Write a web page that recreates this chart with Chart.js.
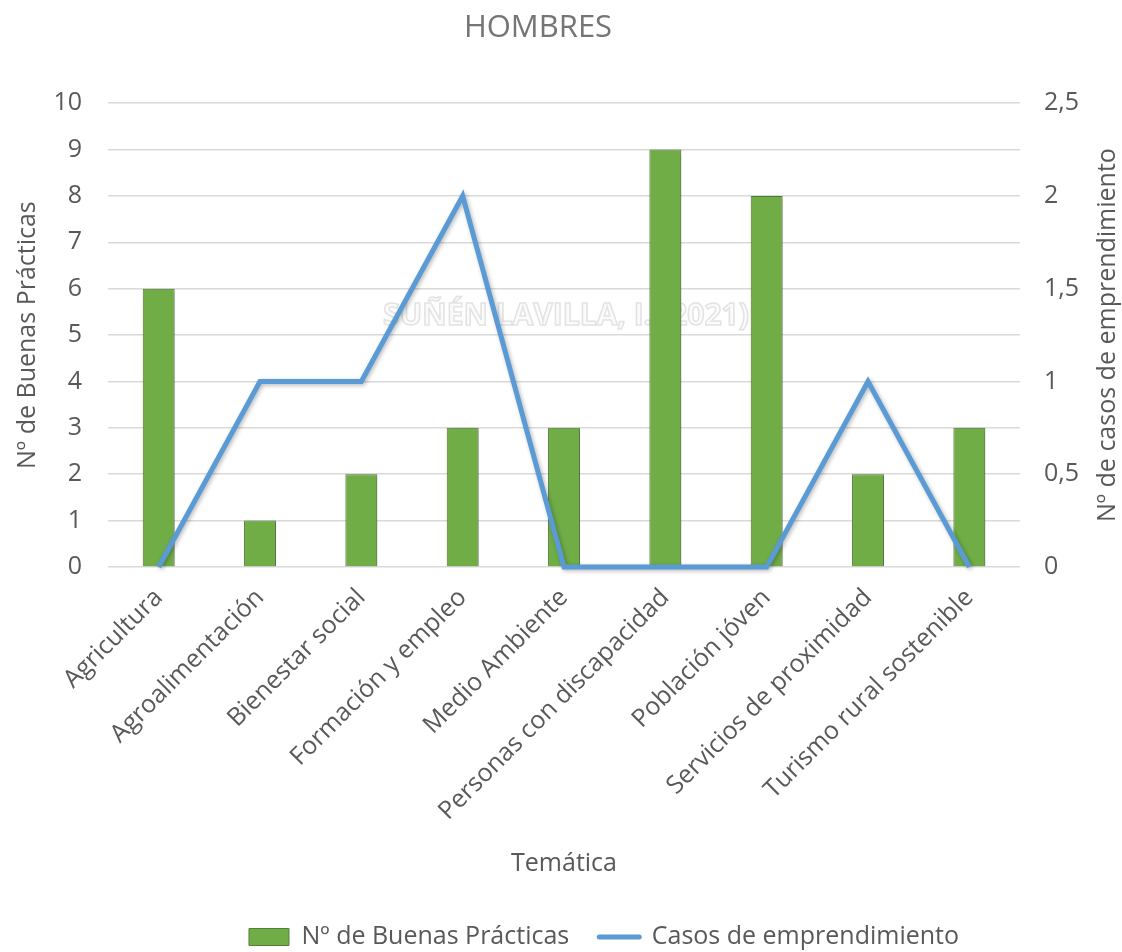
<!DOCTYPE html>
<html><head><meta charset="utf-8">
<script src="https://cdn.jsdelivr.net/npm/chart.js@4.4.0/dist/chart.umd.min.js"></script>
<style>
html,body{margin:0;padding:0;background:#fff;overflow:hidden;width:1122px;height:952px}
#wrap{position:relative;width:1122px;height:952px}
canvas{display:block}
</style></head>
<body><div id="wrap"><canvas id="c" width="1122" height="952"></canvas></div>
<script>
const chartTitle = 'HOMBRES';
const categories = ['Agricultura','Agroalimentación','Bienestar social','Formación y empleo','Medio Ambiente','Personas con discapacidad','Población jóven','Servicios de proximidad','Turismo rural sostenible'];
const buenasPracticas = [6,1,2,3,3,9,8,2,3];
const casosEmprendimiento = [0,1,1,2,0,0,0,1,0];
const seriesNames = ['Nº de Buenas Prácticas','Casos de emprendimiento'];
const leftAxisTitle = 'Nº de Buenas Prácticas';
const rightAxisTitle = 'Nº de casos de emprendimiento';
const xAxisTitle = 'Temática';
const watermark = 'SUÑÉN LAVILLA, I. (2021)';

const FONT = "'Open Sans', sans-serif";
const TXT = '#595959';
const GRID = '#d9d9d9';
const GREEN = '#70AD47';
const GREEN_B = '#548235';
const BLUE = '#5B9BD5';

const extras = {
  id: 'extras',
  afterLayout(chart) {
    if (chart.legend) { chart.legend.left += 86; }
    if (chart.titleBlock) { chart.titleBlock.right -= 46; }
  },
  beforeDatasetsDraw(chart) {
    const ctx = chart.ctx;
    const a = chart.chartArea;
    ctx.save();
    ctx.font = "bold 30px " + FONT;
    ctx.textAlign = 'center';
    ctx.textBaseline = 'middle';
    ctx.lineWidth = 1.5;
    ctx.strokeStyle = '#e3e3e3';
    ctx.fillStyle = '#fbfbfb';
    const cx = (a.left + a.right) / 2 + 2;
    const cy = chart.scales.y.getPixelForValue(5.4);
    ctx.fillText(watermark, cx, cy);
    ctx.strokeText(watermark, cx, cy);
    ctx.restore();
  },
  beforeDatasetDraw(chart) {
    const ctx = chart.ctx;
    ctx.save();
    ctx.shadowColor = 'rgba(0,0,0,0.28)';
    ctx.shadowBlur = 4;
    ctx.shadowOffsetX = 1.5;
    ctx.shadowOffsetY = 1.5;
  },
  afterDatasetDraw(chart) {
    chart.ctx.restore();
  },
  afterDraw(chart) {
    const ctx = chart.ctx;
    const a = chart.chartArea;
    ctx.save();
    ctx.font = "25px " + FONT;
    ctx.fillStyle = TXT;
    ctx.textAlign = 'center';
    ctx.textBaseline = 'middle';
    ctx.translate(1108, (a.top + a.bottom) / 2);
    ctx.rotate(-Math.PI / 2);
    ctx.fillText(rightAxisTitle, 0, 0);
    ctx.restore();
  }
};

new Chart(document.getElementById('c'), {
  type: 'bar',
  data: {
    labels: categories,
    datasets: [
      {
        type: 'line',
        label: seriesNames[1],
        data: casosEmprendimiento,
        yAxisID: 'y1',
        borderColor: BLUE,
        backgroundColor: BLUE,
        borderWidth: 5,
        pointRadius: 0,
        tension: 0,
        clip: false,
        order: 0
      },
      {
        type: 'bar',
        label: seriesNames[0],
        data: buenasPracticas,
        yAxisID: 'y',
        backgroundColor: GREEN,
        borderColor: GREEN_B,
        borderWidth: 1,
        barPercentage: 0.63,
        categoryPercentage: 0.5,
        order: 1
      }
    ]
  },
  plugins: [extras],
  options: {
    responsive: false,
    devicePixelRatio: 1,
    animation: false,
    layout: { padding: { left: 0, right: 0, top: 0, bottom: -7.5 } },
    plugins: {
      title: {
        display: true,
        text: chartTitle,
        color: '#757575',
        font: { family: FONT, size: 31, weight: 'normal' },
        padding: { top: 10, bottom: 56 }
      },
      legend: {
        position: 'bottom',
        labels: {
          color: TXT,
          font: { family: FONT, size: 25 },
          usePointStyle: true,
          pointStyleWidth: 40,
          boxHeight: 17,
          padding: 30,
          generateLabels(chart) {
            return [
              { text: seriesNames[0], fillStyle: GREEN, strokeStyle: GREEN_B, lineWidth: 1, pointStyle: 'rect', datasetIndex: 1, fontColor: TXT },
              { text: seriesNames[1], fillStyle: BLUE, strokeStyle: BLUE, lineWidth: 5, pointStyle: 'line', datasetIndex: 0, fontColor: TXT, lineCap: 'round' }
            ];
          }
        }
      },
      tooltip: { enabled: false }
    },
    scales: {
      x: {
        grid: { display: false },
        border: { display: false },
        ticks: {
          color: TXT,
          font: { family: FONT, size: 25 },
          maxRotation: 45,
          minRotation: 45,
          padding: 8,
          autoSkip: false
        },
        title: {
          display: true,
          text: xAxisTitle,
          color: TXT,
          font: { family: FONT, size: 25 },
          padding: { top: 0, bottom: 16 }
        },
        afterFit(s) { s.height = 327.5; }
      },
      y: {
        position: 'left',
        min: 0, max: 10,
        ticks: { stepSize: 1, color: TXT, font: { family: FONT, size: 25 }, padding: 26 },
        grid: { color: GRID, lineWidth: 1.5, drawTicks: false },
        border: { display: false },
        title: {
          display: true,
          text: leftAxisTitle,
          color: TXT,
          font: { family: FONT, size: 25 },
          padding: { top: 13, bottom: 0 }
        },
        afterFit(s) { s.width = 108; }
      },
      y1: {
        position: 'right',
        min: 0, max: 2.5,
        ticks: {
          stepSize: 0.5,
          color: TXT,
          font: { family: FONT, size: 25 },
          padding: 24,
          callback: (v) => String(v).replace('.', ',')
        },
        grid: { display: false, drawTicks: false },
        border: { display: false },
        afterFit(s) { s.width = 102; }
      }
    }
  }
});
</script>
</body></html>
